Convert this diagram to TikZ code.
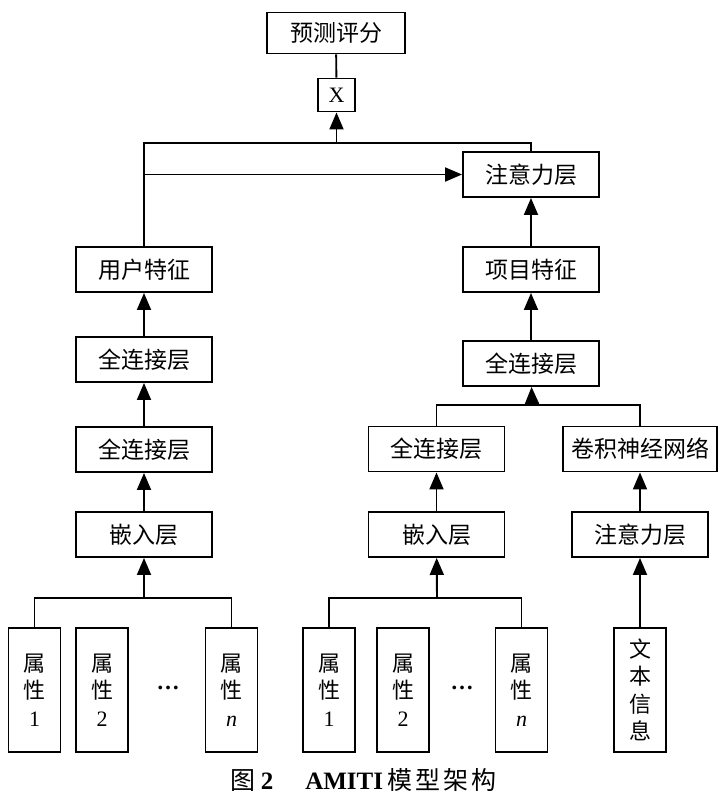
\documentclass[tikz,border=0pt]{standalone}
\usepackage{fontspec}
\setmainfont{Liberation Serif}
\newfontfamily\cjk{Noto Sans CJK SC}
\usetikzlibrary{arrows.meta}

\tikzset{
    box/.style={draw, line width=1.9pt, minimum width=136pt, minimum height=45pt,
        inner sep=0pt, font=\cjk\fontsize{23}{26}\selectfont},
    tallbox/.style={draw, line width=1.9pt, minimum width=52pt, minimum height=124pt,
        inner sep=0pt, align=center, font=\cjk\fontsize{22}{27.5}\selectfont},
    dots/.style={font=\bfseries\fontsize{23}{26}\selectfont},
    arr/.style={-{Triangle[length=17pt,width=14pt]}},
}

\begin{document}
\begin{tikzpicture}[x=1pt, y=-1pt, line width=1.9pt]
    \useasboundingbox (0,0) rectangle (727,804);

    % Output
    \node[box, minimum width=138pt, minimum height=41pt] (score) at (336,33) {预测评分};
    \node[box, minimum width=37pt, minimum height=33pt,
        font=\fontsize{22}{26}\selectfont] (mult) at (336.5,95) {X};
    \node[box] (attnTop) at (531,174.5) {注意力层};

    % User branch
    \node[box] (user) at (144,269.5) {用户特征};
    \node[box] (fcUb) at (144,359.5) {全连接层};
    \node[box] (fcUa) at (144,449.5) {全连接层};
    \node[box] (embU) at (144,534.5) {嵌入层};

    \node[tallbox] (u1) at (34.5,690) {属\\性\\\rmfamily 1};
    \node[tallbox] (u2) at (102,690) {属\\性\\\rmfamily 2};
    \node[dots] (dotsU) at (168,688) {…};
    \node[tallbox] (uN) at (231.5,690) {属\\性\\\rmfamily\itshape n};

    % Item branch
    \node[box] (item) at (531,269.5) {项目特征};
    \node[box] (fcI) at (531,363.5) {全连接层};
    \node[box] (fcIa) at (436.5,449) {全连接层};
    \node[box, minimum width=154pt] (cnn) at (640,449) {卷积神经网络};
    \node[box] (embI) at (436.5,534.5) {嵌入层};
    \node[box] (attnTxt) at (640,534.5) {注意力层};

    \node[tallbox] (i1) at (329,690) {属\\性\\\rmfamily 1};
    \node[tallbox] (i2) at (403,690) {属\\性\\\rmfamily 2};
    \node[dots] (dotsI) at (462,688) {…};
    \node[tallbox] (iN) at (521.5,690) {属\\性\\\rmfamily\itshape n};
    \node[tallbox] (doc) at (640,690) {文\\本\\信\\息};

    % Junctions
    \coordinate (topL) at (144,143);
    \coordinate (topR) at (531,143);
    \coordinate (brU) at (144,598);
    \coordinate (brI) at (437,598);
    \coordinate (brM) at (532,405);

    % Connectors, top
    \draw (mult) -- (score);
    \draw (user) -- (topL) -- (topR) -- (attnTop);
    \draw[arr] (mult |- topL) -- (mult);
    \draw[arr] (user |- attnTop) -- (attnTop);

    % Connectors, user side
    \draw[arr] (fcUb) -- (user);
    \draw[arr] (fcUa) -- (fcUb);
    \draw[arr] (embU) -- (fcUa);
    \draw (u1) |- (uN |- brU) -- (uN);
    \draw[arr] (brU) -- (embU);

    % Connectors, item side
    \draw[arr] (fcI) -- (item);
    \draw[arr] (item) -- (attnTop);
    \draw (fcIa) |- (cnn |- brM) -- (cnn);
    \draw[arr] (brM) -- (fcI);
    \draw[arr] (embI) -- (fcIa);
    \draw[arr] (attnTxt) -- (cnn);
    \draw (i1) |- (iN |- brI) -- (iN);
    \draw[arr] (brI) -- (embI);
    \draw[arr] (doc) -- (attnTxt);

    % Caption
    \node (caption) at (363.5,780) {\fontsize{25}{28}\selectfont
        {\cjk 图}\kern5pt\textbf{2}\hspace{32pt}\textbf{AMITI}\kern4pt
        {\cjk 模\kern3pt 型\kern3pt 架\kern3pt 构}};
\end{tikzpicture}
\end{document}
